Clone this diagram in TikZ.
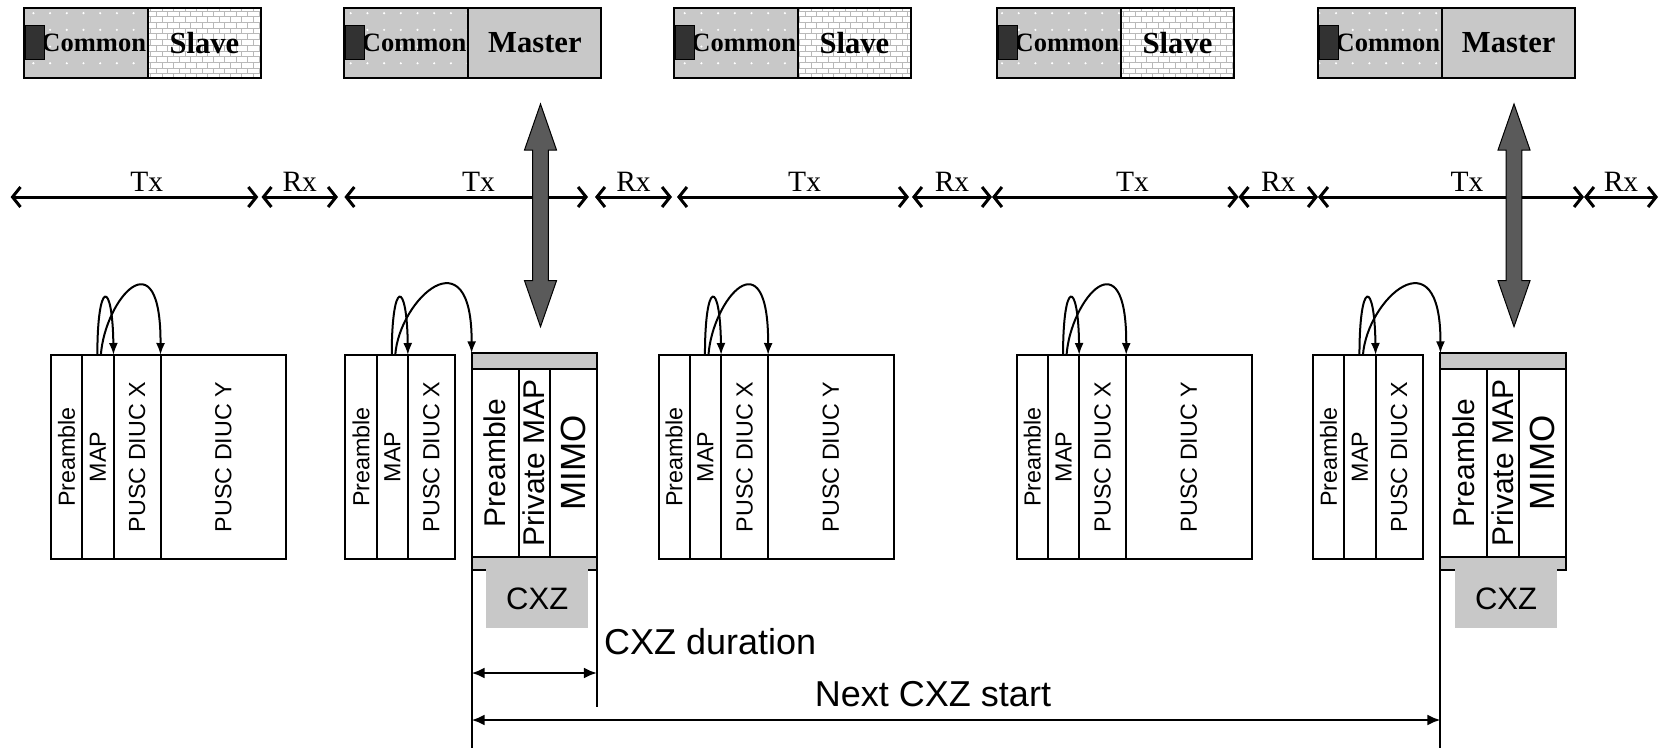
\documentclass[tikz,border=0pt]{standalone}
\usepackage{fontspec}
\setmainfont{Liberation Serif}
\setsansfont{Liberation Sans}
\usetikzlibrary{positioning,arrows.meta,patterns,patterns.meta}

\definecolor{boxgray}{RGB}{200,200,200}
\definecolor{syncgray}{RGB}{90,90,90}
\definecolor{tabgray}{RGB}{50,50,50}

\newcommand{\colfont}{\sffamily\fontsize{23.3}{26}\selectfont}
\newcommand{\cxcolfont}{\sffamily\fontsize{30}{34}\selectfont}
\newcommand{\mimofont}{\sffamily\fontsize{35}{38}\selectfont}
\newcommand{\dimfont}{\sffamily\fontsize{36}{40}\selectfont}
\newcommand{\cxzfont}{\sffamily\fontsize{31}{35}\selectfont}
\newcommand{\commonfont}{\bfseries\fontsize{26.5}{30}\selectfont}
\newcommand{\rolefont}{\bfseries\fontsize{30.6}{34}\selectfont}
\newcommand{\txfont}{\fontsize{29.5}{32}\selectfont}

\tikzset{
  zone/.style={draw, line width=2pt, outer sep=0pt, inner sep=0pt,
    minimum height=70.2pt, anchor=north west},
  common/.style={zone, preaction={fill=boxgray},
    pattern={Dots[distance=16.7pt,radius=1.2pt]}, pattern color=white,
    minimum width=124pt, text width=120pt, inner xsep=2pt, align=right,
    font=\commonfont},
  slave/.style={zone, preaction={fill=white}, pattern=bricks,
    pattern color=gray!55, minimum width=112.7pt, font=\rolefont},
  master/.style={zone, fill=boxgray, minimum width=133pt, font=\rolefont},
  tab/.style={draw, line width=1pt, fill=tabgray, minimum width=19pt,
    minimum height=34pt, inner sep=0pt, anchor=west},
  cell/.style={draw, line width=2pt, outer sep=0pt, inner sep=0pt,
    minimum height=204pt, anchor=north west, font=\colfont},
  precol/.style={cell, minimum width=31.3pt},
  mapcol/.style={cell, minimum width=31.3pt},
  pxcol/.style={cell, minimum width=47pt},
  pycol/.style={cell, minimum width=125.5pt},
  band/.style={draw, fill=boxgray, line width=2pt, outer sep=0pt,
    inner sep=0pt, minimum width=125.3pt, anchor=north west},
  cxcol/.style={draw, line width=2pt, outer sep=0pt, inner sep=0pt,
    minimum height=187.4pt, anchor=north west, font=\cxcolfont},
  cxzbox/.style={fill=boxgray, minimum width=102pt, minimum height=59pt,
    inner sep=0pt, anchor=north west, font=\cxzfont},
  hop/.style={line width=2pt, -{Latex[length=12pt,width=9pt]}},
  txrx/.style={line width=3pt,
    {Straight Barb[length=8pt,width=20pt]}-{Straight Barb[length=8pt,width=20pt]}},
  lbl/.style={font=\txfont, inner sep=0pt, above=4pt},
  dim/.style={line width=2.3pt,
    {Latex[length=13pt,width=11pt]}-{Latex[length=13pt,width=11pt]}},
  guide/.style={line width=2pt},
  sync/.style={draw=black, line width=1pt, fill=syncgray}
}

\begin{document}
\begin{tikzpicture}[x=1pt, y=-1pt]
\useasboundingbox (0,0) rectangle (1667,748);

% zone headers
\node[common] (c1) at (24,7.5) {Common};
\node[slave, right=0pt of c1] (s1) {Slave};
\node[common] (c2) at (344.4,7.5) {Common};
\node[master, right=0pt of c2] (m2) {Master};
\node[common] (c3) at (674,7.5) {Common};
\node[slave, right=0pt of c3] (s3) {Slave};
\node[common] (c4) at (997.2,7.5) {Common};
\node[slave, right=0pt of c4] (s4) {Slave};
\node[common] (c5) at (1318.2,7.5) {Common};
\node[master, right=0pt of c5] (m5) {Master};
\node[tab] (k1) at ([xshift=1pt]c1.west) {};
\node[tab] (k2) at ([xshift=1pt]c2.west) {};
\node[tab] (k3) at ([xshift=1pt]c3.west) {};
\node[tab] (k4) at ([xshift=1pt]c4.west) {};
\node[tab] (k5) at ([xshift=1pt]c5.west) {};

% Tx / Rx time line
\coordinate (a0) at (10.6,197);   \coordinate (a1) at (258.3,197);
\coordinate (a2) at (261.5,197);  \coordinate (a3) at (338,197);
\coordinate (a4) at (344.4,197);  \coordinate (a5) at (588,197);
\coordinate (a6) at (595,197);    \coordinate (a7) at (672,197);
\coordinate (a8) at (677,197);    \coordinate (a9) at (909,197);
\coordinate (a10) at (912,197);   \coordinate (a11) at (992,197);
\coordinate (a12) at (1238.5,197); \coordinate (a13) at (1318,197);
\coordinate (a14) at (1584,197);  \coordinate (a15) at (1658,197);
\draw[txrx] (a0) -- node[lbl, pos=0.55] (tx1) {Tx} (a1);
\draw[txrx] (a2) -- node[lbl] (rx1) {Rx} (a3);
\draw[txrx] (a4) -- node[lbl, pos=0.55] (tx2) {Tx} (a5);
\draw[txrx] (a6) -- node[lbl] (rx2) {Rx} (a7);
\draw[txrx] (a8) -- node[lbl, pos=0.55] (tx3) {Tx} (a9);
\draw[txrx] (a10) -- node[lbl] (rx3) {Rx} (a11);
\draw[txrx] (a11) -- node[lbl, pos=0.57] (tx4) {Tx} (a12);
\draw[txrx] (a12) -- node[lbl] (rx4) {Rx} (a13);
\draw[txrx] (a13) -- node[lbl, pos=0.56] (tx5) {Tx} (a14);
\draw[txrx] (a14) -- node[lbl] (rx5) {Rx} (a15);

% frames
\node[precol] (pre1) at (50.9,355) {\rotatebox{90}{Preamble}};
\node[mapcol, right=0pt of pre1] (map1) {\rotatebox{90}{MAP}};
\node[pxcol, right=0pt of map1] (px1) {\rotatebox{90}{PUSC DIUC X}};
\node[pycol, right=0pt of px1] (py1) {\rotatebox{90}{PUSC DIUC Y}};

\node[precol] (pre2) at (345.3,355) {\rotatebox{90}{Preamble}};
\node[mapcol, right=0pt of pre2] (map2) {\rotatebox{90}{MAP}};
\node[pxcol, right=0pt of map2] (px2) {\rotatebox{90}{PUSC DIUC X}};

\node[band, minimum height=16pt] (cxt1) at (471.6,353.3) {};
\node[cxcol, minimum width=47pt] (cxp1) at (cxt1.south west) {\rotatebox{90}{Preamble}};
\node[cxcol, minimum width=31.3pt, right=0pt of cxp1] (cxm1) {\rotatebox{90}{Private MAP}};
\node[cxcol, minimum width=47pt, right=0pt of cxm1, font=\mimofont] (cxo1) {\rotatebox{90}{MIMO}};
\node[band, minimum height=13.3pt] (cxb1) at (cxp1.south west) {};
\node[cxzbox] (cxz1) at ([xshift=14.4pt,yshift=1.2pt]cxb1.south west) {CXZ};

\node[precol] (pre3) at (658.5,355) {\rotatebox{90}{Preamble}};
\node[mapcol, right=0pt of pre3] (map3) {\rotatebox{90}{MAP}};
\node[pxcol, right=0pt of map3] (px3) {\rotatebox{90}{PUSC DIUC X}};
\node[pycol, right=0pt of px3] (py3) {\rotatebox{90}{PUSC DIUC Y}};

\node[precol] (pre4) at (1016.6,355) {\rotatebox{90}{Preamble}};
\node[mapcol, right=0pt of pre4] (map4) {\rotatebox{90}{MAP}};
\node[pxcol, right=0pt of map4] (px4) {\rotatebox{90}{PUSC DIUC X}};
\node[pycol, right=0pt of px4] (py4) {\rotatebox{90}{PUSC DIUC Y}};

\node[precol] (pre5) at (1313,355) {\rotatebox{90}{Preamble}};
\node[mapcol, right=0pt of pre5] (map5) {\rotatebox{90}{MAP}};
\node[pxcol, right=0pt of map5] (px5) {\rotatebox{90}{PUSC DIUC X}};

\node[band, minimum height=16pt] (cxt2) at (1440.4,353.3) {};
\node[cxcol, minimum width=47pt] (cxp2) at (cxt2.south west) {\rotatebox{90}{Preamble}};
\node[cxcol, minimum width=31.3pt, right=0pt of cxp2] (cxm2) {\rotatebox{90}{Private MAP}};
\node[cxcol, minimum width=47pt, right=0pt of cxm2, font=\mimofont] (cxo2) {\rotatebox{90}{MIMO}};
\node[band, minimum height=13.3pt] (cxb2) at (cxp2.south west) {};
\node[cxzbox] (cxz2) at ([xshift=14.4pt,yshift=1.2pt]cxb2.south west) {CXZ};

% MAP pointers
\draw[hop] ([xshift=-0.5pt]map1.north) .. controls +(0,-76) and +(-1,-76) .. (map1.north east);
\draw[hop] ([xshift=3pt]map1.north) .. controls +(4,-56) and +(0.5,-121) .. (px1.north east);
\draw[hop] ([xshift=-0.5pt]map2.north) .. controls +(0,-76) and +(-1,-76) .. (map2.north east);
\draw[hop] ([xshift=3pt]map2.north) .. controls +(4,-56) and +(0.5,-121) .. (cxt1.north west);
\draw[hop] ([xshift=-0.5pt]map3.north) .. controls +(0,-76) and +(-1,-76) .. (map3.north east);
\draw[hop] ([xshift=3pt]map3.north) .. controls +(4,-56) and +(0.5,-121) .. (px3.north east);
\draw[hop] ([xshift=-0.5pt]map4.north) .. controls +(0,-76) and +(-1,-76) .. (map4.north east);
\draw[hop] ([xshift=3pt]map4.north) .. controls +(4,-56) and +(0.5,-121) .. (px4.north east);
\draw[hop] ([xshift=-0.5pt]map5.north) .. controls +(0,-76) and +(-1,-76) .. (map5.north east);
\draw[hop] ([xshift=3pt]map5.north) .. controls +(4,-56) and +(0.5,-121) .. (cxt2.north west);

% master sync arrows
\foreach \ax in {540.5,1514}
  \draw[sync] (\ax,104) -- ++(16,46) -- ++(-8.2,0) -- ++(0,130.7) -- ++(8.2,0)
    -- ++(-16,46) -- ++(-16,-46) -- ++(8.2,0) -- ++(0,-130.7) -- ++(-8.2,0) -- cycle;

% CXZ timing
\coordinate (bot) at (0,748);
\coordinate (durstop) at (0,707);
\coordinate (durline) at (0,673);
\coordinate (nextline) at (0,720);
\draw[guide] (cxb1.south west) -- (cxb1.south west |- bot);
\draw[guide] (cxb1.south east) -- (cxb1.south east |- durstop);
\draw[guide] (cxb2.south west) -- (cxb2.south west |- bot);
\draw[dim] (cxb1.south west |- durline) -- (cxb1.south east |- durline);
\draw[dim] (cxb1.south west |- nextline) -- (cxb2.south west |- nextline);
\node[font=\dimfont, anchor=base west, inner sep=0pt] (durlbl) at (604,654) {CXZ duration};
\node[font=\dimfont, anchor=base, inner sep=0pt] (nextlbl) at (933,706) {Next CXZ start};
\end{tikzpicture}
\end{document}
